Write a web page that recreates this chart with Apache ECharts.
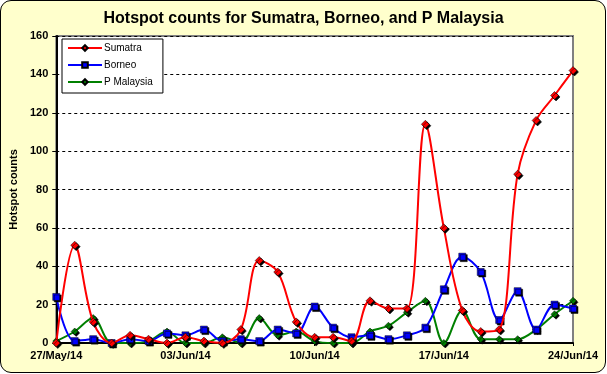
<!DOCTYPE html>
<html>
<head>
<meta charset="utf-8">
<script src="https://cdn.jsdelivr.net/npm/echarts@6/dist/echarts.min.js"></script>
<style>
html,body{margin:0;padding:0;width:607px;height:374px;background:#fff;overflow:hidden;}
#wrap{position:absolute;left:0;top:0;width:604px;height:371px;background:#FFFFCC;border:1px solid #000;border-radius:11px;}
#c{position:absolute;left:0;top:0;width:607px;height:374px;}
</style>
</head>
<body>
<div id="wrap"></div>
<div id="c"></div>
<script>
var categories = ["27/May/14","28/May/14","29/May/14","30/May/14","31/May/14","01/Jun/14","02/Jun/14","03/Jun/14","04/Jun/14","05/Jun/14","06/Jun/14","07/Jun/14","08/Jun/14","09/Jun/14","10/Jun/14","11/Jun/14","12/Jun/14","13/Jun/14","14/Jun/14","15/Jun/14","16/Jun/14","17/Jun/14","18/Jun/14","19/Jun/14","20/Jun/14","21/Jun/14","22/Jun/14","23/Jun/14","24/Jun/14"];
var sumatra = [0,51,11,0,4,2,0,3,1,0,7,43,37,11,3,3,1,22,18,18,114,60,17,6,7,88,116,129,142];
var borneo = [24,1,2,0,2,1,5,4,7,1,2,1,7,5,19,8,3,4,2,4,8,28,45,37,12,27,7,20,18];
var pmalaysia = [1,6,13,0,0,1,6,0,0,3,0,13,4,6,1,0,0,6,9,16,22,0,17,2,2,2,7,15,22];
var seriesNames = ["Sumatra","Borneo","P Malaysia"];
var colors = ["#FF0000","#0000FF","#008000"];
var symbols = ["diamond","rect","diamond"];
var symbolSizes = [8,7,7];

var chart = echarts.init(document.getElementById('c'), null, {renderer:'canvas'});
var data = [sumatra, borneo, pmalaysia];
var series = data.map(function(d,i){
  return {
    name: seriesNames[i],
    type: 'line',
    data: d,
    smooth: 0.35,
    symbol: symbols[i],
    symbolSize: symbolSizes[i],
    showAllSymbol: true,
    lineStyle: {color: colors[i], width: 2},
    itemStyle: {color: colors[i], borderColor: '#000', borderWidth: 0.5, shadowColor: '#000', shadowOffsetX: 1.5, shadowOffsetY: 1.5, shadowBlur: 0},
    z: 3 - i
  };
});
chart.setOption({
  animation: false,
  backgroundColor: 'transparent',
  title: {
    text: 'Hotspot counts for Sumatra, Borneo, and P Malaysia',
    left: 'center', top: 6,
    textStyle: {fontFamily: 'Liberation Sans, Arial', fontSize: 16, fontWeight: 'bold', color: '#000'}
  },
  legend: {
    orient: 'vertical', left: 62, top: 39,
    width: 95,
    padding: [4, 10, 6, 5],
    borderColor: '#000', borderWidth: 1, backgroundColor: '#fff',
    itemWidth: 34, itemHeight: 7, itemGap: 7,
    textStyle: {fontFamily: 'Liberation Sans, Arial', fontSize: 10, color: '#000', padding: [0,0,0,-3]},
    data: seriesNames
  },
  grid: {left: 50, right: 34, top: 36, bottom: 31, show: true, borderColor: '#808080', borderWidth: 2, backgroundColor: '#fff'},
  xAxis: {
    type: 'category', data: categories, boundaryGap: false,
    axisLine: {lineStyle: {color: '#000', width: 2}},
    axisTick: {show: true, interval: 6, length: 3, lineStyle: {color: '#000'}},
    axisLabel: {interval: 6, fontFamily: 'Liberation Sans, Arial', fontSize: 11, fontWeight: 'bold', color: '#000', margin: 7},
    splitLine: {show: false}
  },
  yAxis: {
    type: 'value', min: 0, max: 160, interval: 20,
    name: 'Hotspot counts', nameLocation: 'middle', nameGap: 33,
    nameTextStyle: {fontFamily: 'Liberation Sans, Arial', fontSize: 11, fontWeight: 'bold', color: '#000'},
    axisLine: {show: true, lineStyle: {color: '#000', width: 2}},
    axisTick: {show: true, length: 4, lineStyle: {color: '#000'}},
    axisLabel: {fontFamily: 'Liberation Sans, Arial', fontSize: 11, fontWeight: 'bold', color: '#000', margin: 8},
    splitLine: {show: true, lineStyle: {color: '#000', type: [3,3], width: 1}}
  },
  series: series
});
</script>
</body>
</html>
